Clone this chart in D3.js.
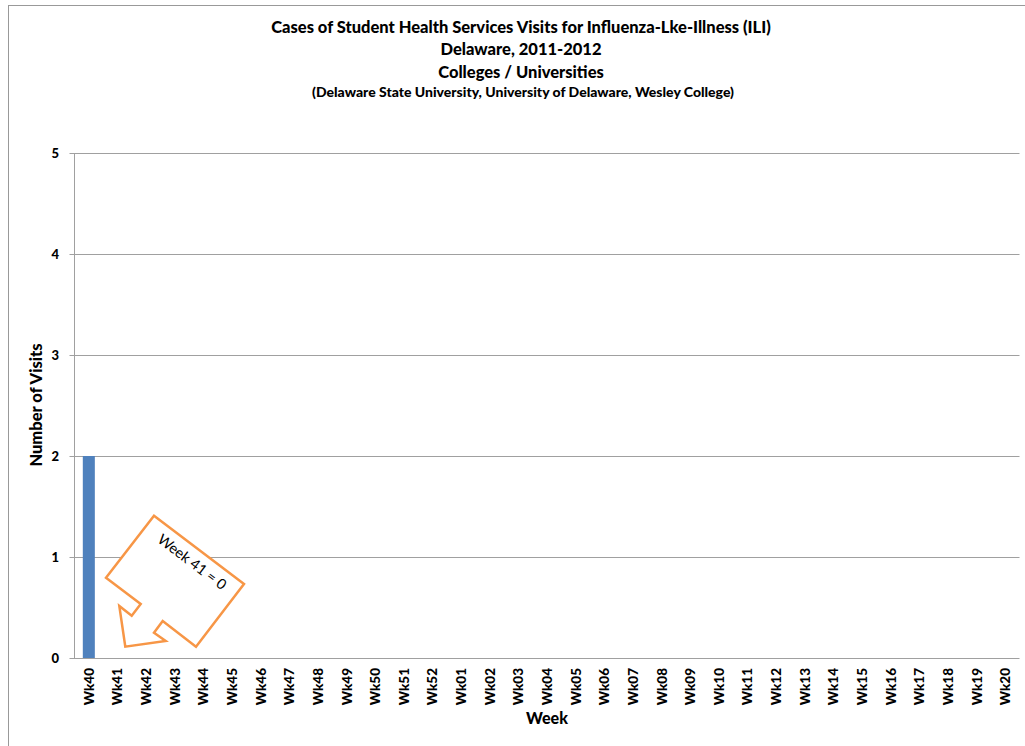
<!DOCTYPE html>
<html><head><meta charset="utf-8">
<script src="https://cdn.jsdelivr.net/npm/d3@7"></script>
<style>body{margin:0;background:#fff}svg{display:block}</style>
</head><body>
<script>
const weeks = ["Wk40","Wk41","Wk42","Wk43","Wk44","Wk45","Wk46","Wk47","Wk48","Wk49","Wk50","Wk51","Wk52","Wk01","Wk02","Wk03","Wk04","Wk05","Wk06","Wk07","Wk08","Wk09","Wk10","Wk11","Wk12","Wk13","Wk14","Wk15","Wk16","Wk17","Wk18","Wk19","Wk20"];
const visits = [2,0,0,0,0,0,0,0,0,0,0,0,0,0,0,0,0,0,0,0,0,0,0,0,0,0,0,0,0,0,0,0,0];
const yTicks = [0,1,2,3,4,5];
const titleLines = ["Cases of Student Health Services Visits for Influenza-Lke-Illness (ILI)","Delaware, 2011-2012","Colleges / Universities"];
const subtitle = "(Delaware State University, University of Delaware, Wesley College)";
const calloutText = "Week 41 = 0";

const W = 1025, H = 746;
const font = "Lato, 'Open Sans', sans-serif";
const svg = d3.select("body").append("svg").attr("width", W).attr("height", H);

// outer border
svg.append("rect").attr("x", 8.5).attr("y", 5.5).attr("width", 1030).attr("height", 760)
  .attr("fill", "none").attr("stroke", "#999").attr("stroke-width", 1);

const m = {l: 74.5, r: 1019.5, t: 153, b: 658};
const x = d3.scaleBand().domain(weeks).range([m.l, m.r]);
const y = d3.scaleLinear().domain([0, 5]).range([m.b, m.t]);

// gridlines
svg.append("g").selectAll("line").data(yTicks).join("line")
  .attr("x1", m.l - 5).attr("x2", m.r)
  .attr("y1", d => Math.round(y(d)) + 0.5).attr("y2", d => Math.round(y(d)) + 0.5)
  .attr("stroke", "#a0a0a0").attr("stroke-width", 1);

// bars
svg.append("g").selectAll("rect").data(weeks).join("rect")
  .attr("x", d => x(d) + x.bandwidth() * 0.29)
  .attr("width", x.bandwidth() * 0.42)
  .attr("y", (d, i) => y(visits[i]))
  .attr("height", (d, i) => y(0) - y(visits[i]))
  .attr("fill", "#4F81BD");

// y axis line
svg.append("line").attr("x1", m.l).attr("x2", m.l).attr("y1", m.t).attr("y2", m.b + 0.5)
  .attr("stroke", "#a0a0a0");

// y tick labels
svg.append("g").selectAll("text").data(yTicks).join("text")
  .attr("x", 59).attr("y", d => y(d) + 5)
  .attr("text-anchor", "end").attr("font-family", font).attr("font-weight", "900")
  .attr("font-size", 13).attr("fill", "#000").text(d => d);

// x tick labels
svg.append("g").selectAll("text").data(weeks).join("text")
  .attr("transform", d => `translate(${x(d) + x.bandwidth() / 2 + 5},668) rotate(-90)`)
  .attr("text-anchor", "end").attr("font-family", font).attr("font-weight", "900")
  .attr("font-size", 13.5).attr("fill", "#000").text(d => d);

// axis titles
svg.append("text").attr("transform", "translate(42,405) rotate(-90)")
  .attr("text-anchor", "middle").attr("font-family", font).attr("font-weight", "900")
  .attr("font-size", 16.5).text("Number of Visits");
svg.append("text").attr("x", 547).attr("y", 724)
  .attr("text-anchor", "middle").attr("font-family", font).attr("font-weight", "900")
  .attr("font-size", 16).text("Week");

// titles
const ty = [33, 55, 78];
titleLines.forEach((t, i) => {
  svg.append("text").attr("x", 521).attr("y", ty[i]).attr("text-anchor", "middle")
    .attr("font-family", font).attr("font-weight", "900").attr("font-size", 16.5).text(t);
});
svg.append("text").attr("x", 523).attr("y", 97).attr("text-anchor", "middle")
  .attr("font-family", font).attr("font-weight", "900").attr("font-size", 14).text(subtitle);

// callout (left-arrow callout shape, rotated)
const pts = [[154,515.7],[244,584],[196,646.7],[162.7,621],[154,632.7],[165.7,641],[125.3,646.7],[119.3,606],[131.7,615.7],[140.7,604],[106,577.7]];
svg.append("polygon").attr("points", pts.map(p => p.join(",")).join(" "))
  .attr("fill", "#fff").attr("stroke", "#F79646").attr("stroke-width", 2.5).attr("stroke-linejoin", "miter");
svg.append("text").attr("transform", "translate(189,566) rotate(37)")
  .attr("text-anchor", "middle").attr("font-family", font).attr("font-size", 14.5).text(calloutText);
</script>
</body></html>
